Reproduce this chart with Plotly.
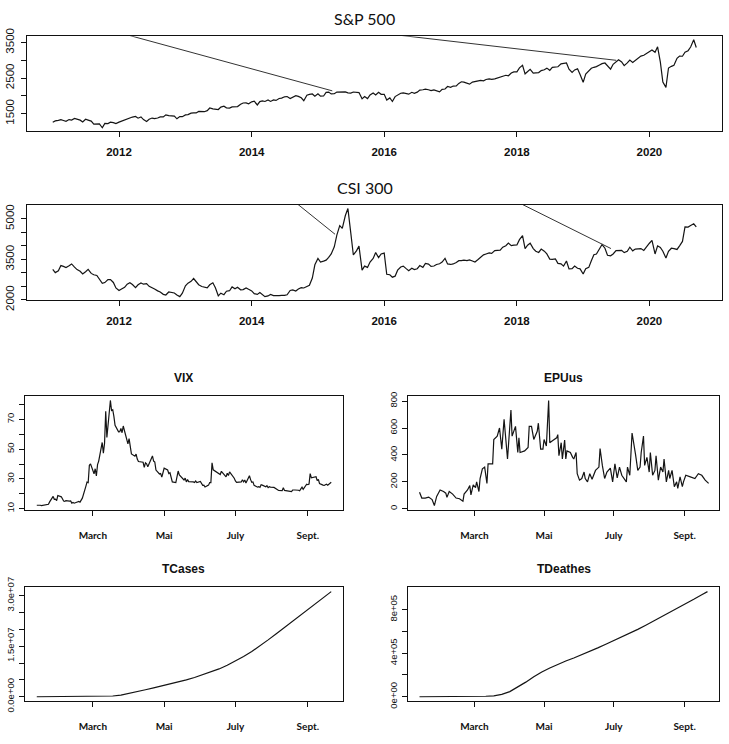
import plotly.graph_objects as go
import pandas as pd

W, H = 729, 744

# ------------------------------------------------------------------ data
# S&P 500, values on the 1st and 15th of every month, Jan 2011 .. mid Sep 2020
sp_vals = [
    1258, 1293, 1307, 1329, 1306, 1281, 1332, 1319, 1361, 1338, 1315, 1266,
    1339, 1316, 1287, 1204, 1204, 1209, 1100, 1224, 1218, 1257, 1244, 1216,
    1258, 1289, 1324, 1343, 1374, 1402, 1419, 1370, 1405, 1330, 1278, 1342,
    1374, 1356, 1375, 1405, 1406, 1465, 1444, 1440, 1427, 1353, 1416, 1413,
    1462, 1472, 1513, 1520, 1518, 1560, 1562, 1553, 1582, 1658, 1631, 1626,
    1614, 1682, 1706, 1661, 1655, 1688, 1695, 1698, 1761, 1798, 1800, 1775,
    1831, 1848, 1742, 1838, 1859, 1841, 1885, 1842, 1883, 1870, 1924, 1936,
    1973, 1981, 1925, 1955, 2003, 1984, 1946, 1862, 2018, 2039, 2053, 1989,
    2058, 1992, 1995, 2097, 2104, 2053, 2059, 2106, 2108, 2122, 2111, 2084,
    2077, 2107, 2104, 2092, 1914, 1978, 1923, 2023, 2079, 2023, 2102, 2043,
    2044, 1880, 1940, 1840, 1978, 2015, 2072, 2081, 2065, 2047, 2099, 2071,
    2103, 2161, 2171, 2190, 2171, 2147, 2168, 2133, 2111, 2180, 2191, 2262,
    2239, 2275, 2279, 2349, 2396, 2385, 2363, 2329, 2388, 2402, 2430, 2433,
    2423, 2459, 2476, 2464, 2476, 2500, 2519, 2553, 2579, 2564, 2642, 2675,
    2674, 2786, 2860, 2620, 2678, 2747, 2641, 2656, 2655, 2711, 2734, 2780,
    2718, 2801, 2813, 2818, 2902, 2905, 2924, 2750, 2660, 2730, 2760, 2600,
    2380, 2610, 2707, 2775, 2803, 2822, 2867, 2906, 2924, 2850, 2752, 2887,
    2964, 3014, 2953, 2848, 2926, 3007, 2940, 2996, 3066, 3120, 3141, 3191,
    3231, 3289, 3226, 3380, 2954, 2386, 2237, 2783, 2830, 2863, 3055, 3120,
    3115, 3227, 3271, 3373, 3580, 3360,
]

# CSI 300, same sampling dates
csi_vals = [
    3128, 3010, 3077, 3270, 3240, 3200, 3260, 3330, 3213, 3120, 3057, 2960,
    3044, 3130, 2980, 2930, 2902, 2760, 2611, 2640, 2750, 2750, 2645, 2440,
    2346, 2400, 2464, 2580, 2635, 2570, 2455, 2560, 2627, 2580, 2600, 2500,
    2461, 2400, 2333, 2290, 2205, 2180, 2293, 2280, 2255, 2180, 2120, 2250,
    2523, 2620, 2688, 2790, 2673, 2560, 2495, 2470, 2448, 2560, 2633, 2450,
    2150, 2250, 2193, 2320, 2339, 2480, 2409, 2470, 2372, 2380, 2443, 2390,
    2331, 2230, 2203, 2270, 2178, 2120, 2146, 2200, 2158, 2150, 2160, 2170,
    2165, 2190, 2350, 2370, 2327, 2400, 2451, 2440, 2508, 2540, 2809, 3300,
    3533, 3400, 3434, 3470, 3572, 3700, 3966, 4400, 4749, 4650, 5123, 5380,
    4473, 3663, 3816, 3990, 3100, 3250, 3203, 3400, 3534, 3750, 3566, 3700,
    3731, 2946, 2930, 2840, 2877, 3100, 3218, 3250, 3156, 3080, 3169, 3120,
    3154, 3270, 3203, 3350, 3326, 3240, 3253, 3310, 3336, 3400, 3538, 3330,
    3311, 3330, 3387, 3450, 3452, 3470, 3456, 3480, 3439, 3400, 3492, 3590,
    3666, 3700, 3737, 3720, 3822, 3830, 3837, 3950, 4006, 4100, 4006, 4030,
    4031, 4230, 4380, 3900, 4023, 4100, 3899, 3800, 3756, 3880, 3802, 3700,
    3511, 3500, 3517, 3350, 3335, 3250, 3439, 3150, 3153, 3250, 3172, 3150,
    2960, 3150, 3202, 3450, 3670, 3700, 3873, 4050, 3913, 3650, 3630, 3700,
    3826, 3820, 3836, 3750, 3799, 3950, 3815, 3880, 3887, 3900, 3829, 3960,
    4097, 4200, 3700, 4000, 3940, 3800, 3550, 3800, 3912, 3900, 3867, 4000,
    4164, 4700, 4695, 4750, 4816, 4700,
]

# stray connecting segments visible in the two index panels (start off-scale -> end on the series)
sp_wrap_from_dates = ["2011-10-19", "2016-01-01"]
sp_wrap_from_vals = [3884, 3756]
sp_wrap_to_dates = ["2015-03-21", "2019-07-02"]
sp_wrap_to_vals = [2140, 3000]

csi_wrap_from_dates = ["2014-08-08", "2018-01-01"]
csi_wrap_from_vals = [5728, 5634]
csi_wrap_to_dates = ["2015-04-05", "2019-06-03"]
csi_wrap_to_vals = [4430, 3900]

# VIX daily closes 2020
vix_dates = [
    "01-13", "01-14", "01-15", "01-16", "01-17", "01-21", "01-22", "01-23", "01-24", "01-27",
    "01-28", "01-29", "01-30", "01-31", "02-03", "02-04", "02-05", "02-06", "02-07", "02-10",
    "02-11", "02-12", "02-13", "02-14", "02-18", "02-19", "02-20", "02-21", "02-24", "02-25",
    "02-26", "02-27", "02-28", "03-02", "03-03", "03-04", "03-05", "03-06", "03-09", "03-10",
    "03-11", "03-12", "03-13", "03-16", "03-17", "03-18", "03-19", "03-20", "03-23", "03-24",
    "03-25", "03-26", "03-27", "03-30", "03-31", "04-01", "04-02", "04-03", "04-06", "04-07",
    "04-08", "04-09", "04-13", "04-14", "04-15", "04-16", "04-17", "04-20", "04-21", "04-22",
    "04-23", "04-24", "04-27", "04-28", "04-29", "04-30", "05-01", "05-04", "05-05", "05-06",
    "05-07", "05-08", "05-11", "05-12", "05-13", "05-14", "05-15", "05-18", "05-19", "05-20",
    "05-21", "05-22", "05-26", "05-27", "05-28", "05-29", "06-01", "06-02", "06-03", "06-04",
    "06-05", "06-08", "06-09", "06-10", "06-11", "06-12", "06-15", "06-16", "06-17", "06-18",
    "06-19", "06-22", "06-23", "06-24", "06-25", "06-26", "06-29", "06-30", "07-01", "07-02",
    "07-06", "07-07", "07-08", "07-09", "07-10", "07-13", "07-14", "07-15", "07-16", "07-17",
    "07-20", "07-21", "07-22", "07-23", "07-24", "07-27", "07-28", "07-29", "07-30", "07-31",
    "08-03", "08-04", "08-05", "08-06", "08-07", "08-10", "08-11", "08-12", "08-13", "08-14",
    "08-17", "08-18", "08-19", "08-20", "08-21", "08-24", "08-25", "08-26", "08-27", "08-28",
    "08-31", "09-01", "09-02", "09-03", "09-04", "09-08", "09-09", "09-10", "09-11", "09-14",
    "09-15", "09-16", "09-17", "09-18", "09-21",
]
vix_vals = [
    12.32, 12.39, 12.42, 12.32, 12.10, 12.85, 12.91, 12.98, 14.56, 18.23,
    16.28, 16.39, 15.49, 18.84, 17.97, 16.05, 15.15, 14.96, 15.47, 15.04,
    15.18, 13.74, 14.15, 13.68, 14.83, 14.38, 15.56, 17.08, 25.03, 27.85,
    27.56, 39.16, 40.11, 33.42, 36.82, 31.99, 39.62, 41.94, 54.46, 47.30,
    53.90, 75.47, 57.83, 82.69, 75.91, 76.45, 72.00, 66.04, 61.59, 61.67,
    63.95, 61.00, 65.54, 57.08, 53.54, 57.06, 50.91, 46.80, 45.24, 46.70,
    43.35, 41.67, 41.17, 37.76, 40.84, 40.11, 38.15, 43.83, 45.41, 41.98,
    41.38, 35.93, 33.29, 33.57, 31.23, 34.15, 37.19, 35.97, 33.61, 34.12,
    31.44, 27.98, 27.57, 33.04, 35.28, 32.61, 31.89, 29.30, 30.53, 27.99,
    29.53, 28.16, 28.01, 27.62, 28.59, 27.51, 28.23, 26.84, 25.66, 25.81,
    24.52, 25.81, 27.57, 27.57, 40.79, 36.09, 34.40, 33.67, 33.47, 32.94,
    35.12, 31.77, 31.37, 33.84, 32.22, 34.73, 31.78, 30.43, 28.62, 27.68,
    27.94, 29.43, 28.08, 29.26, 27.29, 32.19, 29.52, 27.76, 28.00, 25.68,
    24.46, 24.84, 24.32, 26.08, 25.84, 24.74, 25.44, 24.10, 24.76, 24.46,
    24.28, 23.76, 22.99, 22.65, 22.21, 22.13, 24.03, 22.28, 22.13, 22.05,
    21.35, 21.51, 22.54, 22.72, 22.54, 22.37, 22.03, 23.27, 24.47, 22.96,
    26.41, 26.12, 26.57, 33.60, 30.75, 31.46, 28.81, 29.71, 26.87, 25.85,
    25.59, 26.04, 26.46, 25.83, 27.78,
]

# EPU (US) daily index; day number counted from 2020-01-13
epu_day = [
    0, 2, 5, 8, 11, 13, 15, 18, 21, 23, 24, 26, 29, 32, 35, 36, 38, 39, 42, 44,
    45, 47, 49, 50, 52, 53, 55, 57, 59, 60, 62, 64, 65, 68, 70, 72, 74, 75, 77, 78,
    80, 81, 83, 84, 86, 87, 88, 92, 95, 96, 98, 100, 103, 104, 106, 108, 109, 111, 113, 114,
    116, 118, 120, 121, 122, 124, 125, 127, 128, 129, 132, 134, 135, 137, 138, 140, 142, 144, 145, 147,
    149, 151, 153, 154, 157, 158, 160, 162, 164, 165, 167, 169, 171, 173, 175, 177, 179, 181, 182, 184,
    186, 187, 189, 191, 193, 194, 196, 197, 199, 201, 202, 204, 206, 207, 209, 211, 213, 214, 216, 218,
    219, 221, 223, 225, 226, 228, 230, 231, 233, 237, 241, 244, 247, 250, 253,
]
epu_vals = [
    123, 80, 80, 87, 68, 24, 92, 140, 128, 116, 85, 128, 109, 80, 75, 68, 56, 109, 140, 172,
    104, 177, 157, 200, 128, 225, 297, 310, 189, 334, 334, 334, 515, 540, 600, 443, 665, 540, 370, 491,
    733, 540, 588, 612, 418, 527, 418, 430, 455, 612, 612, 515, 576, 636, 443, 443, 515, 467, 805, 491,
    503, 515, 527, 551, 394, 491, 370, 510, 370, 430, 418, 382, 370, 418, 261, 213, 225, 273, 225, 200,
    261, 220, 273, 285, 310, 448, 322, 225, 273, 285, 302, 200, 334, 230, 310, 249, 225, 200, 310, 249,
    563, 515, 406, 285, 310, 418, 540, 322, 382, 273, 418, 249, 285, 394, 213, 310, 273, 370, 200, 285,
    225, 285, 164, 200, 152, 237, 164, 200, 249, 237, 225, 261, 249, 213, 189,
]

# cumulative world COVID-19 cases and deaths (weekly readings)
covid_dates = [
    "01-13", "01-22", "01-29", "02-05", "02-12", "02-19", "02-26", "03-04", "03-11", "03-18",
    "03-25", "04-01", "04-08", "04-15", "04-22", "04-29", "05-06", "05-13", "05-20", "05-27",
    "06-03", "06-10", "06-17", "06-24", "07-01", "07-08", "07-15", "07-22", "07-29", "08-05",
    "08-12", "08-19", "08-26", "09-02", "09-09", "09-16", "09-21",
]
tcases_vals = [
    41, 555, 6165, 28276, 45226, 75641, 81395, 95120, 126214, 214910,
    467594, 932605, 1511104, 2076055, 2623231, 3186817, 3761455, 4348615, 4997326, 5695021,
    6481225, 7309950, 8245627, 9315620, 10547090, 11958640, 13384350, 15053950, 16866850, 18695350,
    20527220, 22358760, 24150100, 25984520, 27826580, 29771180, 31175000,
]
tdeaths_vals = [
    1, 17, 133, 565, 1118, 2122, 2770, 3281, 4615, 8733,
    21181, 47208, 88442, 134176, 183027, 227684, 264211, 298165, 328115, 356541,
    386046, 415553, 449016, 482906, 516218, 548429, 582193, 619058, 656931, 695839,
    735098, 776160, 816232, 856262, 895057, 937436, 966000,
]

year_ticks = ["2012", "2014", "2016", "2018", "2020"]
month_ticks = ["2020-03-01", "2020-05-01", "2020-07-01", "2020-09-01"]
month_labels = ["March", "Mai", "July", "Sept."]

# ------------------------------------------------------------------ build
sp_dates = pd.date_range("2011-01-01", periods=len(sp_vals), freq="SMS")
csi_dates = pd.date_range("2011-01-01", periods=len(csi_vals), freq="SMS")
vix_x = pd.to_datetime(["2020-" + d for d in vix_dates])
epu_x = pd.Timestamp("2020-01-13") + pd.to_timedelta(epu_day, unit="D")
cov_x = pd.to_datetime(["2020-" + d for d in covid_dates])

LINE = "#141414"
TXT = "#111111"


def pad_range(lo, hi, f=0.04):
    d = hi - lo
    return [lo - f * d, hi + f * d]


def pad_dates(d0, d1, f=0.04):
    span = d1 - d0
    return [d0 - f * span, d1 + f * span]


def px_dom_x(a, b):
    return [a / W, b / W]


def px_dom_y(top, bottom):
    return [1 - bottom / H, 1 - top / H]


fig = go.Figure()

panels = [
    # name, x data, y data, xdomain px, ydomain px
    ("1", sp_dates, sp_vals, (27, 722), (27, 125)),
    ("2", csi_dates, csi_vals, (27, 722), (201, 299)),
    ("3", vix_x, vix_vals, (25, 343), (398, 515)),
    ("4", epu_x, epu_vals, (408, 719), (398, 515)),
    ("5", cov_x, tcases_vals, (25, 343), (595, 712)),
    ("6", cov_x, tdeaths_vals, (408, 719), (595, 712)),
]

for k, xs, ys, _, _ in panels:
    suffix = "" if k == "1" else k
    fig.add_trace(go.Scatter(x=xs, y=ys, mode="lines",
                             line=dict(color=LINE, width=1.2),
                             xaxis="x" + suffix, yaxis="y" + suffix,
                             showlegend=False, hoverinfo="skip"))

# stray segments
for fx, fy, tx, ty, suffix in [
    (sp_wrap_from_dates, sp_wrap_from_vals, sp_wrap_to_dates, sp_wrap_to_vals, ""),
    (csi_wrap_from_dates, csi_wrap_from_vals, csi_wrap_to_dates, csi_wrap_to_vals, "2"),
]:
    for i in range(len(fx)):
        fig.add_trace(go.Scatter(x=[fx[i], tx[i]], y=[fy[i], ty[i]], mode="lines",
                                 line=dict(color="#333333", width=1),
                                 xaxis="x" + suffix, yaxis="y" + suffix,
                                 showlegend=False, hoverinfo="skip"))

axis_base = dict(showline=True, mirror=True, linecolor=TXT, linewidth=1,
                 ticks="outside", ticklen=5, tickwidth=1, tickcolor=TXT,
                 showgrid=False, zeroline=False)

long_xrange = pad_dates(sp_dates[0], sp_dates[-1])
short_xrange = pad_dates(vix_x[0], vix_x[-1])

y_specs = {
    "1": (pad_range(min(sp_vals), max(sp_vals)), [1500, 2000, 2500, 3000, 3500],
          ["1500", "", "2500", "", "3500"], 11.5),
    "2": (pad_range(min(csi_vals), max(csi_vals)), [2000, 2500, 3000, 3500, 4000, 4500, 5000],
          ["2000", "", "", "3500", "", "", "5000"], 11.5),
    "3": (pad_range(min(vix_vals), max(vix_vals)), [10, 20, 30, 40, 50, 60, 70, 80],
          ["10", "", "30", "", "50", "", "70", ""], 9.5),
    "4": (pad_range(min(epu_vals), max(epu_vals)), [0, 200, 400, 600, 800],
          ["0", "200", "400", "600", "800"], 9.5),
    "5": (pad_range(min(tcases_vals), max(tcases_vals)), [0, 5e6, 1e7, 1.5e7, 2e7, 2.5e7, 3e7],
          ["0.0e+00", "", "", "1.5e+07", "", "", "3.0e+07"], 9.5),
    "6": (pad_range(min(tdeaths_vals), max(tdeaths_vals)), [0, 2e5, 4e5, 6e5, 8e5],
          ["0e+00", "", "4e+05", "", "8e+05"], 9.5),
}

for k, xs, ys, xd, yd in panels:
    suffix = "" if k == "1" else k
    top = k in ("1", "2")
    xa = dict(axis_base, domain=px_dom_x(*xd), anchor="y" + suffix, type="date",
              range=long_xrange if top else short_xrange)
    if top:
        xa.update(tickvals=[y + "-01-01" for y in year_ticks],
                  ticktext=["<b>" + y + "</b>" for y in year_ticks],
                  tickfont=dict(family="Liberation Sans, Arial", size=11.5, color=TXT),
                  ticklabelstandoff=5)
    else:
        xa.update(tickvals=month_ticks,
                  ticktext=["<b>" + m + "</b>" for m in month_labels],
                  tickfont=dict(family="Lato, Open Sans", size=10, color=TXT),
                  ticklabelstandoff=11)
    yr, tv, tt, fs = y_specs[k]
    ya = dict(axis_base, domain=px_dom_y(*yd), anchor="x" + suffix, range=yr,
              tickvals=tv, ticktext=tt, tickangle=-90,
              tickfont=dict(family="Liberation Sans, Arial", size=fs, color=TXT),
              ticklabelstandoff=2 if top else 1)
    fig.layout["xaxis" + suffix] = xa
    fig.layout["yaxis" + suffix] = ya

titles = [
    ("S&P 500", 364.5, 9, "Lato, Open Sans", 16, False),
    ("CSI 300", 364.5, 183, "Lato, Open Sans", 16, False),
    ("VIX", 184, 379, "Liberation Sans, Arial", 12, True),
    ("EPUus", 563.5, 379, "Liberation Sans, Arial", 12, True),
    ("TCases", 184, 576, "Liberation Sans, Arial", 12, True),
    ("TDeathes", 563.5, 576, "Liberation Sans, Arial", 12, True),
]
for text, x, y, fam, size, bold in titles:
    fig.add_annotation(text=("<b>%s</b>" % text) if bold else text,
                       x=x / W, y=1 - y / H, xref="paper", yref="paper",
                       xanchor="center", yanchor="middle", showarrow=False,
                       font=dict(family=fam, size=size, color=TXT))

fig.update_layout(width=W, height=H, margin=dict(l=0, r=0, t=0, b=0),
                  paper_bgcolor="white", plot_bgcolor="white", showlegend=False)

fig.write_html("out.html", config={"displayModeBar": False, "staticPlot": True},
               post_script="document.body.style.margin='0px';document.body.style.overflow='hidden';")
